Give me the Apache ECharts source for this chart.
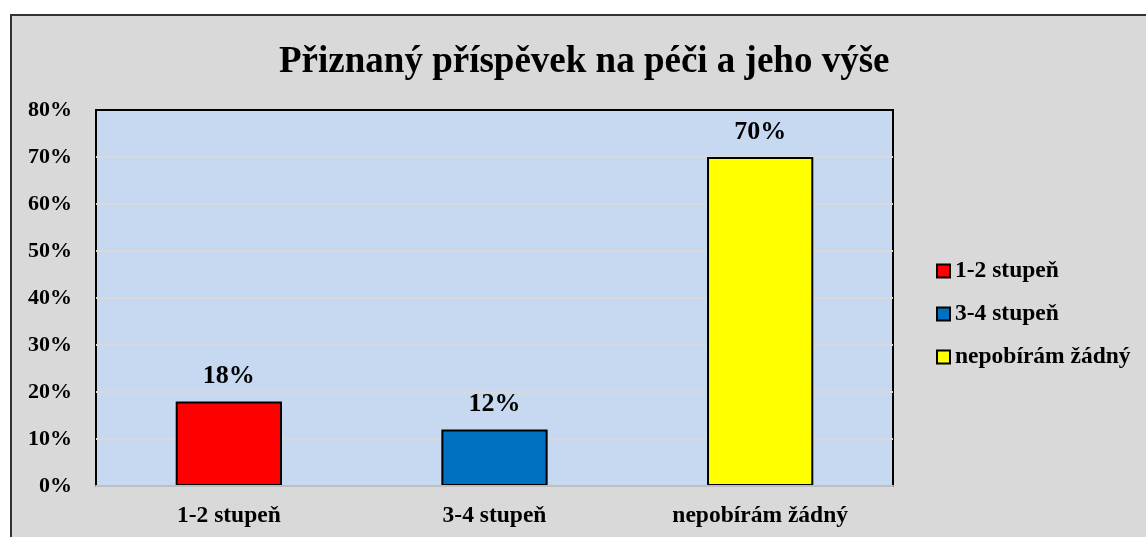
<!DOCTYPE html>
<html>
<head>
<meta charset="utf-8">
<script src="https://cdn.jsdelivr.net/npm/echarts@6/dist/echarts.min.js"></script>
<style>
	html, body { margin: 0; padding: 0; background: #fff; }
	#frame {
		position: absolute; left: 10px; top: 14px; width: 1200px; height: 600px;
		background: #d9d9d9; border-top: 2px solid #333; border-left: 2px solid #333;
	}
	#chart { position: absolute; left: 0; top: 0; width: 1146px; height: 537px; }
</style>
</head>
<body>
<div id="frame"></div>
<div id="chart"></div>
<script>
// data
var categories = ['1-2 stupeň', '3-4 stupeň', 'nepobírám žádný'];
var values = [18, 12, 70];
var colors = ['#ff0000', '#0070c0', '#ffff00'];
var yTicks = [0, 10, 20, 30, 40, 50, 60, 70, 80];

var FONT = '"Liberation Serif", "Times New Roman", serif';

// one series per category so the legend lists them
var series = categories.map(function (name, i) {
	var data = categories.map(function (c, j) {
		return j === i ? values[i] : '-';
	});
	return {
		name: name,
		type: 'bar',
		stack: 'all',
		barWidth: '40%',
		data: data,
		itemStyle: { color: colors[i], borderColor: '#000', borderWidth: 2 },
		label: {
			show: true,
			position: 'top',
			distance: 12,
			formatter: '{c}%',
			fontFamily: FONT,
			fontWeight: 'bold',
			fontSize: 26,
			color: '#000'
		}
	};
});

var chart = echarts.init(document.getElementById('chart'));
chart.setOption({
	animation: false,
	title: {
		text: 'Přiznaný příspěvek na péči a jeho výše',
		left: 274,
		top: 39,
		textStyle: { fontFamily: FONT, fontWeight: 'bold', fontSize: 37, color: '#000' }
	},
	legend: {
		orient: 'vertical',
		left: 931,
		top: 254,
		icon: 'rect',
		itemWidth: 13,
		itemHeight: 13,
		itemGap: 19,
		itemStyle: { borderColor: '#000', borderWidth: 2 },
		textStyle: { fontFamily: FONT, fontWeight: 'bold', fontSize: 23.5, color: '#000', lineHeight: 24 },
		data: categories
	},
	grid: {
		left: 96, right: 253, top: 110, bottom: 51,
		show: true,
		backgroundColor: '#c6d9f1',
		borderColor: '#000',
		borderWidth: 2
	},
	xAxis: {
		type: 'category',
		data: categories,
		z: 5,
		axisLine: { lineStyle: { color: '#bfbfbf', width: 2 } },
		axisTick: { show: false },
		axisLabel: {
			margin: 18,
			fontFamily: FONT, fontWeight: 'bold', fontSize: 23.5, color: '#000'
		}
	},
	yAxis: {
		type: 'value',
		min: yTicks[0],
		max: yTicks[yTicks.length - 1],
		interval: yTicks[1] - yTicks[0],
		axisLine: { show: false },
		axisTick: { show: false },
		splitLine: { showMinLine: false, showMaxLine: false, lineStyle: { color: '#d9d9d9', width: 2 } },
		axisLabel: {
			margin: 24,
			formatter: '{value}%',
			fontFamily: FONT, fontWeight: 'bold', fontSize: 22, color: '#000'
		}
	},
	series: series
});
</script>
</body>
</html>
